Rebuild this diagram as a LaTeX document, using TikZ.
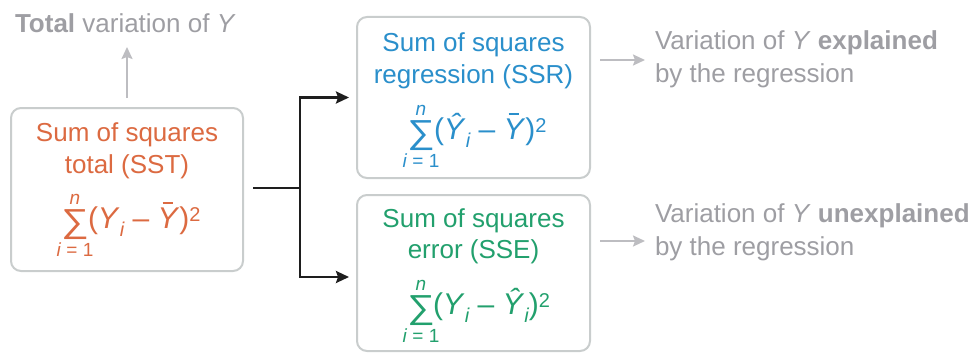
\RequirePackage{fix-cm}
\documentclass[tikz,border=0pt]{standalone}
\usepackage{fontspec}
\setmainfont{Liberation Sans}
\usetikzlibrary{arrows.meta}
\definecolor{sstc}{HTML}{DC6A41}
\definecolor{ssrc}{HTML}{2A8FCB}
\definecolor{ssec}{HTML}{22A06D}
\definecolor{graytxt}{HTML}{9E9EA3}
\definecolor{grayarr}{HTML}{BDBDC1}
\definecolor{boxc}{HTML}{C9CDCD}
\definecolor{darkc}{HTML}{1E1E1E}
\newcommand{\msub}[1]{\raisebox{-8pt}{\fontsize{20}{20}\selectfont\itshape #1}}
\newcommand{\msup}[1]{\raisebox{7pt}{\fontsize{20}{20}\selectfont #1}}
\newcommand{\bY}{\rlap{\kernm5pt\raisebox{24pt}{\rule{10pt}{2pt}}}\textit{Y}}
\newcommand{\kernm}{\kern}
\newcommand{\hY}{\textit{\^Y}}
\newcommand{\pY}{\textit{Y}}
\newcommand{\sumglyph}{\scalebox{1.1}[0.95]{∑}}
\begin{document}
\begin{tikzpicture}[x=1pt,y=-1pt,
  every node/.style={inner sep=0pt, outer sep=0pt, font=\fontsize{26}{31}\selectfont},
  boxst/.style={draw=boxc, line width=2pt, rounded corners=10pt, fill=white},
  grayarrow/.style={draw=grayarr, line width=2pt, -{Stealth[length=12pt,width=11pt,inset=2pt]}},
  blackarrow/.style={draw=darkc, line width=2.4pt, -{Stealth[length=13pt,width=12pt,inset=2pt]}},
  lbl/.style={anchor=base},
  sumsym/.style={anchor=base, font=\fontsize{35}{35}\selectfont, yshift=-4pt},
  limtxt/.style={anchor=base, font=\fontsize{19}{19}\selectfont},
  body/.style={anchor=base west, font=\fontsize{30}{30}\selectfont}
]
\useasboundingbox (0,0) rectangle (976,353);

% boxes
\node[boxst, minimum width=232pt, minimum height=163pt] (sst) at (127,189.5) {};
\node[boxst, minimum width=233pt, minimum height=161pt] (ssr) at (473.5,97.5) {};
\node[boxst, minimum width=233pt, minimum height=156pt] (sse) at (473.5,273) {};

% SST text
\node[lbl, text=sstc] (sst1) at (127,141) {Sum of squares};
\node[lbl, text=sstc] (sst2) at (127,173) {total (SST)};
\node[sumsym, text=sstc] (sstS) at (75,228) {\sumglyph};
\node[limtxt, text=sstc] (sstN) at (75,204) {\itshape n};
\node[limtxt, text=sstc] (sstI) at (75,256) {\textit{i} = 1};
\node[body, text=sstc] (sstF) at (88,228) {(\pY\msub{i} – \bY)\msup{2}};

% SSR text
\node[lbl, text=ssrc] (ssr1) at (473.5,52) {Sum of squares};
\node[lbl, text=ssrc] (ssr2) at (473.5,83) {regression (SSR)};
\node[sumsym, text=ssrc] (ssrS) at (421,139) {\sumglyph};
\node[limtxt, text=ssrc] (ssrN) at (421,115) {\itshape n};
\node[limtxt, text=ssrc] (ssrI) at (421,167) {\textit{i} = 1};
\node[body, text=ssrc] (ssrF) at (434,139) {(\hY\msub{i} – \bY)\msup{2}};

% SSE text
\node[lbl, text=ssec] (sse1) at (473.5,227) {Sum of squares};
\node[lbl, text=ssec] (sse2) at (473.5,258) {error (SSE)};
\node[sumsym, text=ssec] (sseS) at (421,314) {\sumglyph};
\node[limtxt, text=ssec] (sseN) at (421,290) {\itshape n};
\node[limtxt, text=ssec] (sseI) at (421,342) {\textit{i} = 1};
\node[body, text=ssec] (sseF) at (433,314) {(\pY\msub{i} – \hY\msub{i})\msup{2}};

% gray texts
\node[anchor=base west, text=graytxt] (tot) at (15,33) {\textbf{Total} variation of \textit{Y}};
\node[anchor=base west, text=graytxt] (exp1) at (655,50) {Variation of \textit{Y} \textbf{explained}};
\node[anchor=base west, text=graytxt] (exp2) at (655,82) {by the regression};
\node[anchor=base west, text=graytxt] (une1) at (655,222) {Variation of \textit{Y} \textbf{unexplained}};
\node[anchor=base west, text=graytxt] (une2) at (655,255) {by the regression};

% connectors
\coordinate (junc) at (300,188);
\draw[grayarrow] ([yshift=10pt]sst.north) -- ([yshift=-14pt]sst.north |- tot.base);
\draw[draw=darkc, line width=2.4pt] ([xshift=10pt]sst.east |- junc) -- (junc);
\draw[blackarrow] ([yshift=-1.2pt]junc) |- ([xshift=-8pt]ssr.west);
\draw[blackarrow] ([yshift=1.2pt]junc) |- ([xshift=-8pt,yshift=-4pt]sse.west);
\draw[grayarrow] ([xshift=10pt]ssr.east |- 0,60) -- ([xshift=-10pt]exp1.base west |- 0,60);
\draw[grayarrow] ([xshift=10pt]sse.east |- 0,241) -- ([xshift=-10pt]une1.base west |- 0,241);
\end{tikzpicture}
\end{document}
